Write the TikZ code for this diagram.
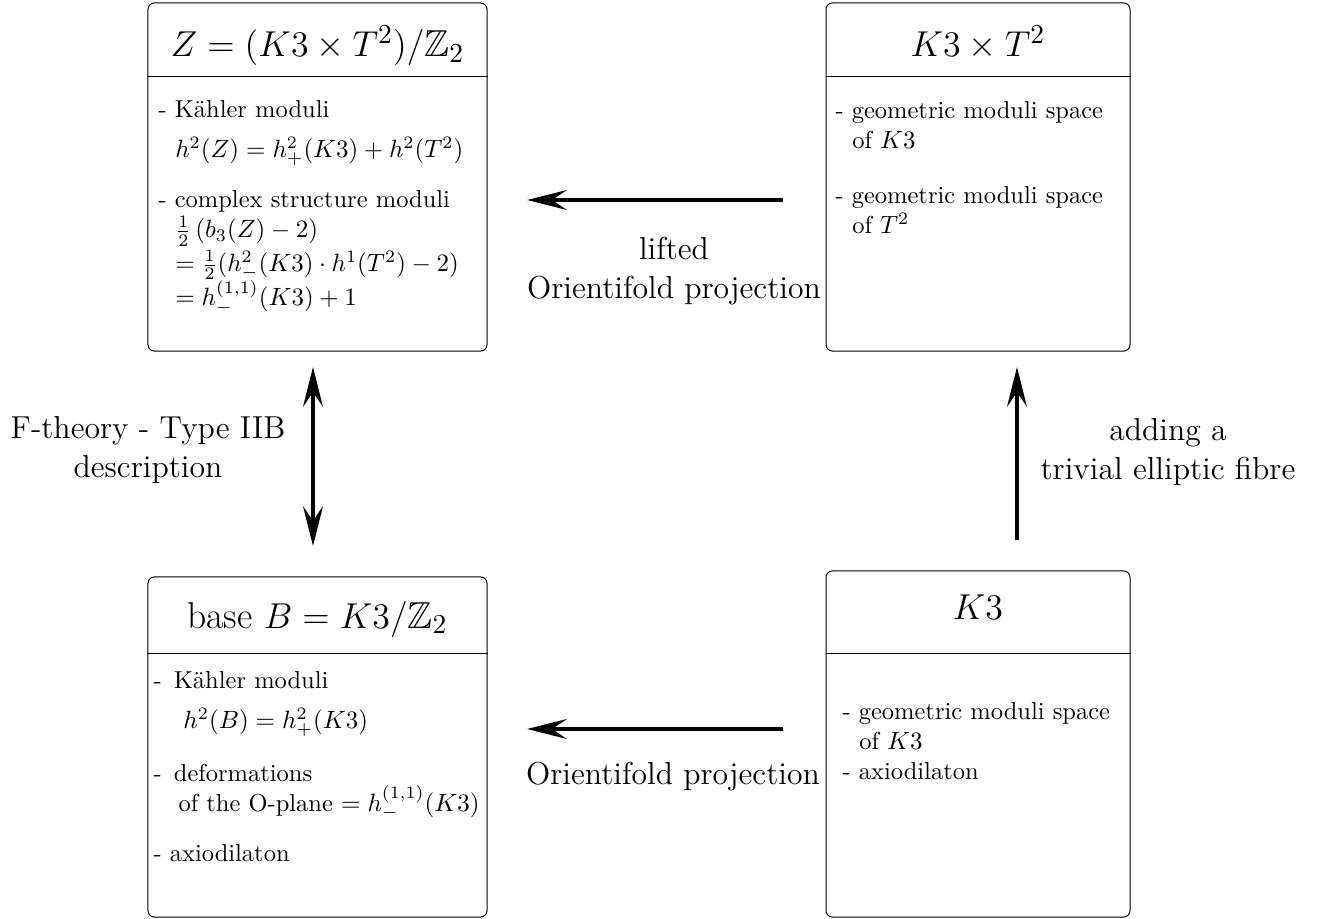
\documentclass[tikz,border=0pt]{standalone}
\usepackage{amsmath,amssymb}
\usetikzlibrary{positioning,arrows.meta}

\newcommand{\ind}{\hspace*{6.7pt}}

\tikzset{
  cell/.style={draw, rounded corners=2.5pt, inner sep=0pt},
  headline/.style={font=\fontsize{15}{18}\selectfont, inner sep=0pt},
  body/.style={anchor=north west, align=left, inner sep=0pt, font=\fontsize{9.8}{12}\selectfont},
  side/.style={font=\fontsize{12.7}{15.8}\selectfont, align=center, inner sep=0pt},
  bigarrow/.style={-{Stealth[length=16pt,width=8pt,inset=6pt]}, line width=1.6pt},
  bigboth/.style={{Stealth[length=16pt,width=8pt,inset=6pt]}-{Stealth[length=16pt,width=8pt,inset=6pt]}, line width=1.6pt}
}

\begin{document}
\begin{tikzpicture}[x=0.4pt,y=-0.4pt]
\useasboundingbox (0,0) rectangle (1328,919);

% the four boxes
\node[cell, minimum width=135.6pt, minimum height=139.2pt] (Zbox) at (317.5,177) {};
\node[cell, minimum width=121.6pt, minimum height=139.2pt] (KTbox) at (978,177) {};
\node[cell, minimum width=135.6pt, minimum height=136pt] (Bbox) at (317.5,747) {};
\node[cell, minimum width=121.6pt, minimum height=138.4pt] (Kbox) at (978,744) {};

\draw (Zbox.west |- 0,77) -- (Zbox.east |- 0,77);
\draw (KTbox.west |- 0,77) -- (KTbox.east |- 0,77);
\draw (Bbox.west |- 0,653) -- (Bbox.east |- 0,653);
\draw (Kbox.west |- 0,653) -- (Kbox.east |- 0,653);

% titles
\node[headline] (Ztitle) at (317.5,46) {$Z=(K3\times T^2)/\mathbb{Z}_2$};
\node[headline] (KTtitle) at (978,43) {$K3\times T^2$};
\node[headline] (Btitle) at (317.5,619) {base $B=K3/\mathbb{Z}_2$};
\node[headline] (Ktitle) at (978,607) {$K3$};

% contents
\node[body] (Ztext) at (158,100) {%
- Kähler moduli\\[4pt]
\ind$h^2(Z)=h^2_+(K3)+h^2(T^2)$\\[8pt]
- complex structure moduli\\[0pt]
\ind$\frac12\left(b_3(Z)-2\right)$\\[1.5pt]
\ind$=\frac12(h^2_-(K3)\cdot h^1(T^2)-2)$\\[-1pt]
\ind$=h^{(1,1)}_-(K3)+1$};

\node[body] (KTtext) at (835,101) {%
- geometric moduli space\\
\ind of $K3$\\[10pt]
- geometric moduli space\\
\ind of $T^2$};

\node[body] (Btext) at (153,671) {%
- \,Kähler moduli\\[4pt]
\hspace*{12pt}$h^2(B)=h^2_+(K3)$\\[9pt]
- \,deformations\\
\hspace*{10pt}of the O-plane $=h^{(1,1)}_-(K3)$\\[8pt]
- axiodilaton};

\node[body] (Ktext) at (842,702) {%
- geometric moduli space\\
\ind of $K3$\\
- axiodilaton};

% arrows
\coordinate (liftS) at (783,200);
\coordinate (liftE) at (527,200);
\coordinate (projS) at (783,729);
\coordinate (projE) at (527,729);
\coordinate (ftA) at (313,367);
\coordinate (ftB) at (313,546);
\coordinate (fibS) at (1017,540);
\coordinate (fibE) at (1017,367);

\draw[bigarrow] (liftS) -- (liftE);
\draw[bigarrow] (projS) -- (projE);
\draw[bigboth] (ftA) -- (ftB);
\draw[bigarrow] (fibS) -- (fibE);

% arrow labels
\node[side] (liftlbl) at (674,271) {lifted\\ Orientifold projection};
\node[side] (projlbl) at (673,777) {Orientifold projection};
\node[side] (ftlbl) at (148,450) {F-theory - Type IIB\\ description};
\node[side] (fiblbl) at (1168,452) {adding a\\ trivial elliptic fibre};

\end{tikzpicture}
\end{document}
